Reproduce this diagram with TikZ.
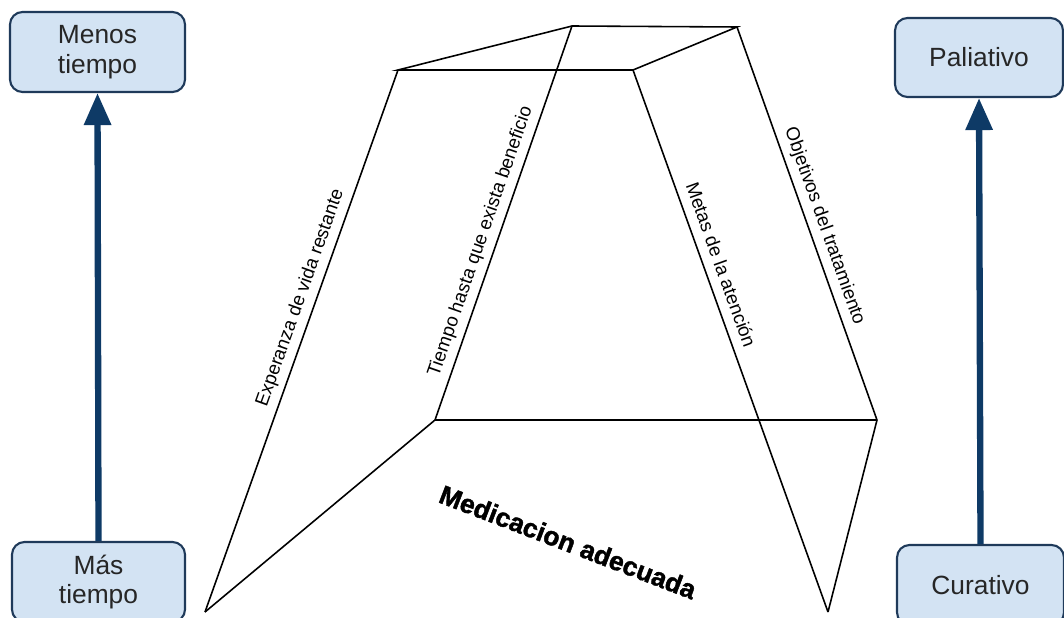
\documentclass[tikz,border=0pt]{standalone}
\usepackage{fontspec}
\setmainfont{Liberation Sans}
\newfontfamily\negrita[BoldFeatures={FakeBold=1.6}]{Liberation Sans}
\usetikzlibrary{arrows.meta}

\definecolor{azulcaja}{HTML}{D3E3F3}
\definecolor{bordecaja}{HTML}{1F3A5A}
\definecolor{azulflecha}{HTML}{0E3A66}

\tikzset{
  caja/.style={draw=bordecaja, line width=1.2pt, fill=azulcaja, rounded corners=0.25cm,
    align=center, text=black!85, font=\fontsize{15}{17}\selectfont, inner sep=0pt},
  flecha/.style={azulflecha, line width=3.6pt, -{Triangle[length=0.64cm,width=0.52cm]}},
  arista/.style={line width=0.9pt},
  etiqueta/.style={sloped, above, font=\fontsize{10.7}{12}\selectfont}
}

\begin{document}
\begin{tikzpicture}[x=0.02cm,y=-0.02cm]
\clip (0,0) rectangle (1064,618);
\useasboundingbox (0,0) rectangle (1064,618);

% cajas de los lados
\node[caja, minimum width=3.5cm, minimum height=1.6cm] (menos) at (97.5,52) {Menos\\tiempo};
\node[caja, minimum width=3.46cm, minimum height=1.6cm] (mas) at (98.5,582) {Más\\tiempo};
\node[caja, minimum width=3.36cm, minimum height=1.58cm] (paliativo) at (979,57.5) {Paliativo};
\node[caja, minimum width=3.34cm, minimum height=1.6cm] (curativo) at (980.5,585) {Curativo};

\draw[flecha] (mas.north) -- (menos.south);
\draw[flecha] (curativo.north) -- (paliativo.south);

% vertices del tronco
\coordinate (A) at (398,70);
\coordinate (B) at (572,26);
\coordinate (C) at (737,27);
\coordinate (D) at (633,70);
\coordinate (E) at (435,420);
\coordinate (F) at (877,420);
\coordinate (G) at (205,612);
\coordinate (H) at (828,612);

\draw[arista] (A)--(B)--(C)--(D)--cycle;
\draw[arista] (E)--(F);
\draw[arista] (G)--(E);
\draw[arista] (F)--(H);

\draw[arista] (G) -- (A) node[etiqueta, pos=0.57] {Experanza de vida restante};
\draw[arista] (E) -- (B) node[etiqueta, pos=0.44] {Tiempo hasta que exista beneficio};
\draw[arista] (D) -- (H) node[etiqueta, pos=0.37, yshift=2pt] {Metas de la atención};
\draw[arista] (C) -- (F) node[etiqueta, pos=0.52] {Objetivos del tratamiento};

\node[rotate=-21, font=\negrita\fontsize{15}{18}\bfseries] (medicacion) at (568,542) {Medicacion adecuada};
\end{tikzpicture}
\end{document}
